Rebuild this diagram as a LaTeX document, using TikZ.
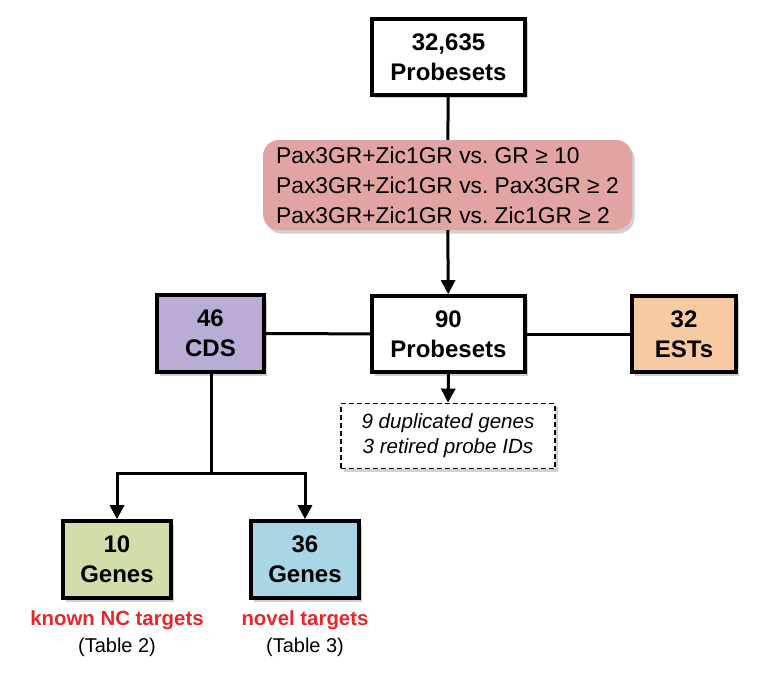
\documentclass[tikz,border=0pt]{standalone}
\usepackage{fontspec}
\setmainfont{Liberation Sans}
\frenchspacing
\usetikzlibrary{arrows.meta,shadows}
\definecolor{filterred}{RGB}{226,164,162}
\definecolor{cdspurple}{RGB}{186,172,212}
\definecolor{estorange}{RGB}{248,202,162}
\definecolor{geneg}{RGB}{210,222,170}
\definecolor{geneb}{RGB}{168,214,228}
\definecolor{labred}{RGB}{232,38,42}
\tikzset{
  x=1pt, y=-1pt,
  softshadow/.style={drop shadow={shadow xshift=2.5pt, shadow yshift=-3.5pt, opacity=0.3, fill=black!60}},
  mainbox/.style={draw=black, line width=3.6pt, fill=white, align=center, inner sep=0pt,
    font=\fontsize{24}{30}\selectfont\bfseries, softshadow},
  filterbox/.style={fill=filterred, rounded corners=16pt, align=left, inner sep=0pt,
    font=\fontsize{22.8}{30}\selectfont, softshadow},
  notebox/.style={draw=black, line width=1.8pt, dash pattern=on 5pt off 3pt, fill=white, align=center,
    inner sep=0pt, font=\fontsize{20.6}{25}\selectfont\itshape, softshadow},
  conn/.style={line width=3pt, draw=black},
  arr/.style={conn, -{Triangle[length=14pt, width=14pt]}},
  redlab/.style={text=labred, font=\fontsize{20.4}{24}\selectfont\bfseries},
  tablab/.style={font=\fontsize{20}{24}\selectfont}
}
\begin{document}
\begin{tikzpicture}
\useasboundingbox (0,0) rectangle (769,693);
\fill[white] (0,0) rectangle (769,693);
\node[mainbox, minimum width=153pt, minimum height=76pt] (top) at (448.5,57) {32,635\\Probesets};
\node[filterbox, minimum width=369pt, minimum height=90pt] (filt) at (447.5,185)
  {Pax3GR+Zic1GR vs. GR ≥ 10\\Pax3GR+Zic1GR vs. Pax3GR ≥ 2\\Pax3GR+Zic1GR vs. Zic1GR ≥ 2};
\node[mainbox, minimum width=153pt, minimum height=76pt] (mid) at (448.5,334) {90\\Probesets};
\node[mainbox, fill=cdspurple, minimum width=107pt, minimum height=77pt] (cds) at (210.5,333.5) {46\\CDS};
\node[mainbox, fill=estorange, minimum width=104pt, minimum height=76pt] (est) at (684,334) {32\\ESTs};
\node[notebox, minimum width=214pt, minimum height=65pt] (note) at (448,436) {9 duplicated genes\\3 retired probe IDs};
\node[mainbox, fill=geneg, minimum width=108pt, minimum height=77pt] (g10) at (117,559.5) {10\\Genes};
\node[mainbox, fill=geneb, minimum width=108pt, minimum height=77pt] (g36) at (305,559.5) {36\\Genes};
\node[redlab] (l10) at (117,620) {known NC targets};
\node[tablab] (t10) at (117,647) {(Table 2)};
\node[redlab] (l36) at (305,620) {novel targets};
\node[tablab] (t36) at (305,647) {(Table 3)};
\coordinate (split) at (211,473);
\draw[conn] (top) -- (filt);
\draw[arr] (filt) -- (mid);
\draw[conn] (mid) -- (cds);
\draw[conn] (mid) -- (est);
\draw[arr] (mid.south) -- (note.north);
\draw[conn] (cds.south -| split) -- (split);
\draw[arr] (split) -| (g10.north);
\draw[arr] (split) -| (g36.north);
\end{tikzpicture}
\end{document}
